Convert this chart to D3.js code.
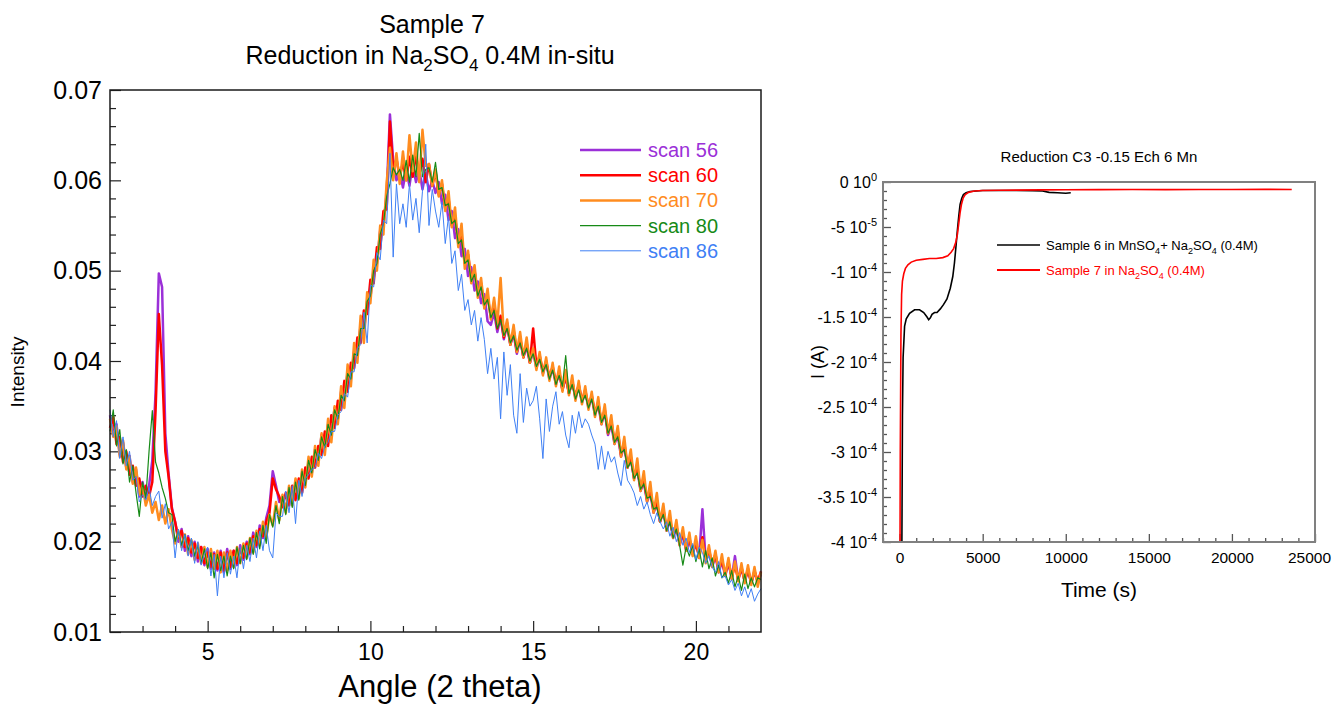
<!DOCTYPE html>
<html>
<head>
<meta charset="utf-8">
<script src="https://cdn.jsdelivr.net/npm/d3@7/dist/d3.min.js"></script>
<style>
  body { margin:0; background:#fff; }
  svg text { font-family: Arial, "Liberation Sans", sans-serif; }
</style>
</head>
<body>
<div id="chart"></div>
<script>

// ---------------- Left chart : XRD scans (angle grid 2 .. 22, step 0.1) ----------------
var scanAngle = d3.range(0, 201).map(function(i){ return Math.round((2 + i/10)*10)/10; });

var scan56 = [
  .0340,.0318,.0330,.0296,.0310,.0282,.0295,.0266,.0280,.0250,
  .0266,.0248,.0262,.0290,.0365,.0497,.0482,.0320,.0275,.0238,
  .0222,.0200,.0214,.0190,.0206,.0184,.0200,.0178,.0194,.0174,
  .0192,.0170,.0188,.0168,.0190,.0166,.0192,.0170,.0190,.0174,
  .0196,.0180,.0200,.0186,.0210,.0194,.0218,.0204,.0226,.0240,
  .0278,.0262,.0244,.0248,.0236,.0256,.0244,.0264,.0252,.0276,
  .0264,.0288,.0276,.0302,.0290,.0318,.0304,.0330,.0318,.0348,
  .0336,.0366,.0356,.0388,.0380,.0410,.0406,.0440,.0432,.0466,
  .0470,.0502,.0508,.0544,.0548,.0586,.0673,.0622,.0600,.0610,
  .0592,.0612,.0594,.0618,.0598,.0612,.0590,.0608,.0588,.0600,
  .0586,.0598,.0574,.0584,.0556,.0566,.0536,.0546,.0516,.0524,
  .0494,.0504,.0478,.0488,.0464,.0474,.0444,.0440,.0454,.0432,
  .0448,.0424,.0440,.0418,.0430,.0408,.0424,.0404,.0416,.0398,
  .0410,.0392,.0404,.0386,.0398,.0380,.0392,.0374,.0388,.0368,
  .0382,.0364,.0378,.0358,.0372,.0354,.0366,.0348,.0360,.0340,
  .0352,.0330,.0344,.0318,.0330,.0308,.0318,.0294,.0306,.0282,
  .0292,.0270,.0280,.0256,.0266,.0244,.0254,.0232,.0242,.0222,
  .0234,.0212,.0224,.0204,.0216,.0196,.0208,.0190,.0202,.0186,
  .0198,.0184,.0236,.0180,.0190,.0172,.0184,.0166,.0178,.0162,
  .0176,.0160,.0184,.0158,.0170,.0156,.0168,.0154,.0166,.0156,
  .0164
];

var scan60 = [
  .0326,.0338,.0308,.0316,.0288,.0300,.0274,.0284,.0262,.0270,
  .0250,.0262,.0250,.0266,.0345,.0452,.0395,.0300,.0272,.0236,
  .0222,.0204,.0212,.0194,.0204,.0188,.0198,.0182,.0194,.0176,
  .0188,.0172,.0186,.0170,.0188,.0168,.0188,.0172,.0190,.0176,
  .0192,.0182,.0198,.0188,.0206,.0196,.0214,.0206,.0222,.0232,
  .0270,.0258,.0250,.0238,.0254,.0240,.0262,.0246,.0270,.0254,
  .0282,.0270,.0294,.0282,.0306,.0296,.0322,.0306,.0340,.0326,
  .0356,.0346,.0378,.0366,.0398,.0392,.0426,.0420,.0456,.0452,
  .0490,.0486,.0526,.0524,.0566,.0568,.0665,.0612,.0624,.0604,
  .0620,.0600,.0626,.0604,.0628,.0606,.0624,.0598,.0618,.0594,
  .0610,.0584,.0596,.0568,.0580,.0550,.0560,.0530,.0538,.0508,
  .0518,.0490,.0500,.0474,.0486,.0460,.0472,.0448,.0462,.0436,
  .0450,.0426,.0442,.0418,.0434,.0410,.0426,.0404,.0420,.0398,
  .0436,.0394,.0406,.0388,.0400,.0382,.0394,.0376,.0388,.0368,
  .0384,.0364,.0378,.0360,.0374,.0356,.0368,.0350,.0362,.0342,
  .0354,.0332,.0346,.0320,.0334,.0310,.0322,.0296,.0310,.0282,
  .0294,.0270,.0282,.0258,.0268,.0246,.0256,.0234,.0244,.0222,
  .0236,.0214,.0226,.0206,.0218,.0198,.0210,.0192,.0204,.0186,
  .0200,.0182,.0205,.0180,.0192,.0174,.0186,.0168,.0180,.0164,
  .0178,.0160,.0174,.0158,.0172,.0156,.0170,.0154,.0168,.0156,
  .0167
];

var scan70 = [
  .0336,.0316,.0328,.0294,.0312,.0280,.0294,.0264,.0282,.0252,
  .0262,.0240,.0252,.0232,.0244,.0224,.0240,.0220,.0236,.0214,
  .0198,.0212,.0194,.0208,.0186,.0202,.0180,.0198,.0176,.0194,
  .0172,.0192,.0170,.0190,.0166,.0188,.0168,.0190,.0172,.0194,
  .0176,.0198,.0182,.0204,.0188,.0212,.0196,.0222,.0204,.0230,
  .0218,.0244,.0224,.0252,.0232,.0262,.0240,.0270,.0248,.0280,
  .0260,.0294,.0272,.0306,.0284,.0320,.0296,.0336,.0310,.0350,
  .0330,.0372,.0348,.0396,.0372,.0420,.0398,.0450,.0420,.0476,
  .0464,.0512,.0500,.0550,.0540,.0598,.0636,.0600,.0630,.0596,
  .0632,.0600,.0650,.0610,.0642,.0598,.0656,.0616,.0618,.0594,
  .0612,.0582,.0600,.0566,.0588,.0548,.0570,.0526,.0552,.0502,
  .0522,.0486,.0506,.0470,.0492,.0458,.0480,.0446,.0470,.0440,
  .0492,.0428,.0446,.0418,.0440,.0410,.0432,.0404,.0426,.0398,
  .0414,.0390,.0410,.0384,.0404,.0378,.0398,.0372,.0394,.0366,
  .0390,.0362,.0384,.0356,.0378,.0352,.0372,.0346,.0366,.0338,
  .0360,.0330,.0352,.0320,.0340,.0308,.0328,.0294,.0316,.0282,
  .0302,.0268,.0292,.0256,.0278,.0244,.0266,.0232,.0254,.0222,
  .0242,.0212,.0234,.0204,.0224,.0196,.0216,.0190,.0210,.0184,
  .0206,.0182,.0202,.0176,.0196,.0172,.0190,.0166,.0186,.0162,
  .0182,.0158,.0178,.0156,.0176,.0154,.0174,.0152,.0172,.0150,
  .0166
];

var scan80 = [
  .0322,.0346,.0306,.0324,.0286,.0302,.0266,.0284,.0254,.0228,
  .0266,.0248,.0300,.0345,.0288,.0276,.0260,.0248,.0232,.0230,
  .0200,.0212,.0196,.0208,.0190,.0202,.0184,.0196,.0176,.0192,
  .0170,.0188,.0160,.0186,.0168,.0184,.0162,.0184,.0170,.0194,
  .0176,.0196,.0180,.0204,.0186,.0210,.0192,.0218,.0198,.0230,
  .0216,.0240,.0220,.0250,.0230,.0260,.0238,.0266,.0246,.0278,
  .0262,.0290,.0276,.0302,.0290,.0316,.0304,.0330,.0318,.0346,
  .0336,.0362,.0356,.0386,.0380,.0408,.0406,.0436,.0436,.0466,
  .0472,.0500,.0508,.0540,.0552,.0582,.0596,.0614,.0606,.0612,
  .0600,.0622,.0598,.0628,.0604,.0652,.0604,.0612,.0614,.0598,
  .0620,.0590,.0592,.0572,.0574,.0552,.0556,.0530,.0534,.0508,
  .0512,.0488,.0496,.0472,.0482,.0462,.0468,.0448,.0456,.0436,
  .0446,.0428,.0436,.0420,.0428,.0412,.0420,.0406,.0414,.0400,
  .0408,.0394,.0402,.0388,.0396,.0380,.0390,.0374,.0384,.0372,
  .0406,.0364,.0374,.0358,.0368,.0354,.0362,.0348,.0358,.0340,
  .0350,.0332,.0340,.0320,.0328,.0310,.0316,.0298,.0302,.0282,
  .0288,.0270,.0276,.0258,.0264,.0248,.0250,.0236,.0238,.0222,
  .0230,.0212,.0222,.0204,.0214,.0196,.0174,.0194,.0184,.0196,
  .0178,.0192,.0172,.0190,.0170,.0182,.0162,.0174,.0160,.0166,
  .0154,.0168,.0150,.0162,.0146,.0164,.0148,.0160,.0150,.0160,
  .0158
];

var scan86 = [
  .0346,.0316,.0334,.0292,.0316,.0284,.0300,.0268,.0272,.0244,
  .0252,.0246,.0260,.0240,.0250,.0256,.0226,.0242,.0214,.0222,
  .0182,.0214,.0190,.0208,.0184,.0204,.0176,.0200,.0174,.0186,
  .0194,.0162,.0186,.0140,.0184,.0160,.0188,.0164,.0184,.0160,
  .0194,.0170,.0196,.0178,.0204,.0182,.0212,.0190,.0218,.0190,
  .0182,.0232,.0228,.0228,.0256,.0232,.0262,.0220,.0268,.0250,
  .0270,.0274,.0280,.0282,.0298,.0292,.0306,.0310,.0322,.0322,
  .0340,.0344,.0364,.0360,.0388,.0388,.0414,.0418,.0454,.0420,
  .0484,.0482,.0520,.0512,.0556,.0552,.0630,.0515,.0596,.0552,
  .0574,.0548,.0596,.0556,.0580,.0542,.0588,.0640,.0550,.0590,
  .0566,.0548,.0576,.0530,.0560,.0508,.0522,.0478,.0496,.0456,
  .0468,.0440,.0456,.0422,.0448,.0424,.0386,.0414,.0380,.0404,
  .0336,.0410,.0362,.0396,.0340,.0320,.0386,.0332,.0370,.0350,
  .0356,.0372,.0336,.0292,.0358,.0322,.0350,.0366,.0330,.0344,
  .0318,.0304,.0340,.0320,.0344,.0326,.0336,.0330,.0318,.0308,
  .0280,.0306,.0280,.0300,.0288,.0294,.0276,.0262,.0290,.0268,
  .0262,.0254,.0240,.0250,.0236,.0244,.0230,.0220,.0232,.0222,
  .0214,.0222,.0206,.0216,.0200,.0210,.0196,.0204,.0188,.0198,
  .0180,.0194,.0188,.0176,.0184,.0172,.0166,.0178,.0160,.0162,
  .0152,.0158,.0146,.0154,.0140,.0150,.0138,.0148,.0134,.0142,
  .0148
];

var scanNames  = ["scan 56","scan 60","scan 70","scan 80","scan 86"];
var scanSeries = [scan56, scan60, scan70, scan80, scan86];

var scanMajorX = [5,10,15,20];
var scanMinorX = [3,4,6,7,8,9,11,12,13,14,16,17,18,19,21];
var scanMajorY = [0.01,0.02,0.03,0.04,0.05,0.06,0.07];
var scanMinorY = d3.range(12,70,2).filter(function(v){return v%10!=0;}).map(function(v){return v/1000;});

// ---------------- Right chart : current vs time ----------------
var sample6Time = [130,170,210,300,400,600,900,1200,1450,1650,
                   1750,1850,1950,2100,2250,2450,2650,2850,3050,3200,
                   3300,3400,3480,3560,3640,3740,3840,4000,4240,4600,
                   5000,6000,7000,8000,8600,9000,9500,10000,10300];
var sample6Current = [-4.3e-4,-2.6e-4,-1.95e-4,-1.6e-4,-1.52e-4,-1.46e-4,-1.42e-4,-1.42e-4,-1.45e-4,-1.5e-4,
                      -1.53e-4,-1.51e-4,-1.47e-4,-1.45e-4,-1.45e-4,-1.41e-4,-1.36e-4,-1.3e-4,-1.18e-4,-1.05e-4,
                      -9.0e-5,-7.0e-5,-5.3e-5,-3.8e-5,-2.5e-5,-1.8e-5,-1.4e-5,-1.2e-5,-1.05e-5,-1.0e-5,
                      -9.5e-6,-9.5e-6,-9.4e-6,-9.6e-6,-1.0e-5,-1.15e-5,-1.2e-5,-1.25e-5,-1.2e-5];

var sample7Time = [20,40,80,120,170,250,350,500,700,1000,
                   1400,1800,2200,2600,2900,3100,3250,3380,3480,3560,
                   3640,3720,3820,3950,4150,4500,5000,6000,7000,8500,
                   10000,12000,14000,16000,18000,20000,22000,23600];
var sample7Current = [-4.3e-4,-3.0e-4,-1.7e-4,-1.25e-4,-1.1e-4,-1.02e-4,-9.6e-5,-9.2e-5,-8.9e-5,-8.7e-5,
                      -8.6e-5,-8.5e-5,-8.5e-5,-8.4e-5,-8.2e-5,-7.8e-5,-7.4e-5,-6.7e-5,-5.8e-5,-4.6e-5,
                      -3.4e-5,-2.5e-5,-1.8e-5,-1.4e-5,-1.15e-5,-1.0e-5,-9.5e-6,-9.2e-6,-9.0e-6,-8.8e-6,
                      -8.6e-6,-8.5e-6,-8.4e-6,-8.5e-6,-8.3e-6,-8.4e-6,-8.2e-6,-8.3e-6];

var currentMajorX = [0,5000,10000,15000,20000,25000];
var currentMinorX = d3.range(-1000,25000,1000).filter(function(v){return v%5000!=0;});
var currentMajorY = [0,-5e-5,-1e-4,-1.5e-4,-2e-4,-2.5e-4,-3e-4,-3.5e-4,-4e-4];
var currentTickMantissa = ["0","-5","-1","-1.5","-2","-2.5","-3","-3.5","-4"];
var currentTickExponent = ["0","-5","-4","-4","-4","-4","-4","-4","-4"];
var currentMinorY = d3.range(-40,1,1).filter(function(v){return v%5!=0;}).map(function(v){return v*1e-5;});


var scanColors = ["#9b30d8","#ff0000","#ff8c1f","#178a17","#3f80f5"];
var scanWidths = [2.5,2.5,2.5,1.2,1.0];

var svg = d3.select("#chart")
  .append("svg")
    .attr("width",1336)
    .attr("height",704);

plotScans();
plotCurrent();


function plotScans(){
  var frame = {left:110, right:761, top:90, bottom:632};

  var x = d3.scaleLinear().domain([2,22]).range([frame.left,frame.right]);
  var y = d3.scaleLinear().domain([0.01,0.07]).range([frame.bottom,frame.top]);

  var g = svg.append("g").attr("class","scans");

  // title
  g.append("text")
    .attr("x",432).attr("y",33)
    .attr("text-anchor","middle")
    .attr("font-size",25)
    .text("Sample 7");
  var t2 = g.append("text")
    .attr("x",430).attr("y",64)
    .attr("text-anchor","middle")
    .attr("font-size",25);
  t2.append("tspan").text("Reduction in Na");
  t2.append("tspan").attr("dy",7).attr("font-size",17).text("2");
  t2.append("tspan").attr("dy",-7).text("SO");
  t2.append("tspan").attr("dy",7).attr("font-size",17).text("4");
  t2.append("tspan").attr("dy",-7).text(" 0.4M in-situ");

  // axes
  var xMinor = d3.axisBottom(x).tickValues(scanMinorX).tickSizeInner(-6).tickSizeOuter(0).tickFormat("");
  var xMajor = d3.axisBottom(x).tickValues(scanMajorX).tickSizeInner(-11).tickSizeOuter(0).tickPadding(12).tickFormat(d3.format("d"));
  var yMinor = d3.axisLeft(y).tickValues(scanMinorY).tickSizeInner(-6).tickSizeOuter(0).tickFormat("");
  var yMajor = d3.axisLeft(y).tickValues(scanMajorY).tickSizeInner(-11).tickSizeOuter(0).tickPadding(8).tickFormat(d3.format(".2f"));

  [xMinor,xMajor].forEach(function(a){
    g.append("g").attr("transform","translate(0,"+frame.bottom+")").call(a)
      .attr("font-size",23).attr("font-family",null);
  });
  [yMinor,yMajor].forEach(function(a){
    g.append("g").attr("transform","translate("+frame.left+",0)").call(a)
      .attr("font-size",25).attr("font-family",null);
  });
  g.selectAll(".domain").remove();
  g.selectAll(".tick line").attr("stroke","#222").attr("stroke-width",1.2);
  g.selectAll(".tick text").attr("fill","#000");

  // scans
  var line = d3.line()
    .x(function(d,i){return x(scanAngle[i]);})
    .y(function(d){return y(d);});

  g.append("g")
    .attr("class","scan-lines")
    .selectAll("path")
    .data(scanSeries)
    .enter()
    .append("path")
      .attr("d",line)
      .attr("fill","none")
      .attr("stroke",function(d,i){return scanColors[i];})
      .attr("stroke-width",function(d,i){return scanWidths[i];})
      .attr("stroke-linejoin","round");

  // frame
  g.append("rect")
    .attr("x",frame.left).attr("y",frame.top)
    .attr("width",frame.right-frame.left)
    .attr("height",frame.bottom-frame.top)
    .attr("fill","none")
    .attr("stroke","#1a1a1a")
    .attr("stroke-width",1.5);

  // legend
  var legend = g.append("g").attr("class","legend");
  scanNames.forEach(function(name,i){
    var ly = 150 + i*25.2;
    legend.append("line")
      .attr("x1",580).attr("x2",641)
      .attr("y1",ly).attr("y2",ly)
      .attr("stroke",scanColors[i])
      .attr("stroke-width",scanWidths[i]);
    legend.append("text")
      .attr("x",648).attr("y",ly+7)
      .attr("font-size",20)
      .attr("fill",scanColors[i])
      .text(name);
  });

  // axis titles
  g.append("text")
    .attr("x",440).attr("y",697)
    .attr("text-anchor","middle")
    .attr("font-size",31)
    .text("Angle (2 theta)");
  g.append("text")
    .attr("transform","translate(24,372) rotate(-90)")
    .attr("text-anchor","middle")
    .attr("font-size",19)
    .text("Intensity");
}


function plotCurrent(){
  var frame = {left:883, right:1315, top:182, bottom:542};

  var x = d3.scaleLinear().domain([-1000,25000]).range([frame.left,frame.right]);
  var y = d3.scaleLinear().domain([-4e-4,0]).range([frame.bottom,frame.top]);

  var g = svg.append("g").attr("class","current");

  g.append("clipPath")
    .attr("id","current-clip")
    .append("rect")
      .attr("x",frame.left).attr("y",frame.top)
      .attr("width",frame.right-frame.left)
      .attr("height",frame.bottom-frame.top);

  g.append("text")
    .attr("x",1099).attr("y",162)
    .attr("text-anchor","middle")
    .attr("font-size",15)
    .text("Reduction C3 -0.15 Ech 6 Mn");

  var xMinor = d3.axisBottom(x).tickValues(currentMinorX).tickSizeInner(-4).tickSizeOuter(0).tickFormat("");
  var xMajor = d3.axisBottom(x).tickValues(currentMajorX).tickSizeInner(-8).tickSizeOuter(0).tickPadding(10).tickFormat(d3.format("d"));
  var yMinor = d3.axisLeft(y).tickValues(currentMinorY).tickSizeInner(-4).tickSizeOuter(0).tickFormat("");
  var yMajor = d3.axisLeft(y).tickValues(currentMajorY).tickSizeInner(-8).tickSizeOuter(0).tickFormat("");

  [xMinor,xMajor].forEach(function(a){
    g.append("g").attr("transform","translate(0,"+frame.bottom+")").call(a)
      .attr("font-size",15.5).attr("font-family",null);
  });
  [yMinor,yMajor].forEach(function(a){
    g.append("g").attr("transform","translate("+frame.left+",0)").call(a);
  });
  g.selectAll(".domain").remove();
  g.selectAll(".tick line").attr("stroke","#555").attr("stroke-width",1.3);
  g.selectAll(".tick text").attr("fill","#000");
  // keep the last x label inside the page like the reference
  g.selectAll(".tick text").filter(function(d){return d==25000;}).attr("dx",-6);

  // y labels with power-of-ten superscripts
  var yl = g.append("g").attr("class","y-labels");
  currentMajorY.forEach(function(v,i){
    var t = yl.append("text")
      .attr("x",frame.left-6)
      .attr("y",y(v)+6)
      .attr("text-anchor","end")
      .attr("font-size",16);
    t.append("tspan").text(currentTickMantissa[i]+" 10");
    t.append("tspan").attr("dy",-7).attr("font-size",11).text(currentTickExponent[i]);
  });

  var line = d3.line()
    .x(function(d){return x(d[0]);})
    .y(function(d){return y(d[1]);});

  var curves = g.append("g").attr("clip-path","url(#current-clip)");
  curves.append("path")
    .attr("d",line(d3.zip(sample6Time,sample6Current)))
    .attr("fill","none")
    .attr("stroke","#000")
    .attr("stroke-width",1.6);
  curves.append("path")
    .attr("d",line(d3.zip(sample7Time,sample7Current)))
    .attr("fill","none")
    .attr("stroke","#ff0000")
    .attr("stroke-width",1.6);

  g.append("rect")
    .attr("x",frame.left).attr("y",frame.top)
    .attr("width",frame.right-frame.left)
    .attr("height",frame.bottom-frame.top)
    .attr("fill","none")
    .attr("stroke","#808080")
    .attr("stroke-width",2);

  // legend
  var lg = g.append("g").attr("class","legend");
  lg.append("line").attr("x1",997).attr("x2",1040).attr("y1",245).attr("y2",245)
    .attr("stroke","#000").attr("stroke-width",1.5);
  var l1 = lg.append("text").attr("x",1046).attr("y",250).attr("font-size",13);
  l1.append("tspan").text("Sample 6 in MnSO");
  l1.append("tspan").attr("dy",4).attr("font-size",9).text("4");
  l1.append("tspan").attr("dy",-4).text("+ Na");
  l1.append("tspan").attr("dy",4).attr("font-size",9).text("2");
  l1.append("tspan").attr("dy",-4).text("SO");
  l1.append("tspan").attr("dy",4).attr("font-size",9).text("4");
  l1.append("tspan").attr("dy",-4).text(" (0.4M)");

  lg.append("line").attr("x1",997).attr("x2",1040).attr("y1",270).attr("y2",270)
    .attr("stroke","#ff0000").attr("stroke-width",2);
  var l2 = lg.append("text").attr("x",1046).attr("y",275).attr("font-size",13).attr("fill","#ff0000");
  l2.append("tspan").text("Sample 7 in Na");
  l2.append("tspan").attr("dy",4).attr("font-size",9).text("2");
  l2.append("tspan").attr("dy",-4).text("SO");
  l2.append("tspan").attr("dy",4).attr("font-size",9).text("4");
  l2.append("tspan").attr("dy",-4).text(" (0.4M)");

  g.append("text")
    .attr("x",1099).attr("y",597)
    .attr("text-anchor","middle")
    .attr("font-size",21)
    .text("Time (s)");
  g.append("text")
    .attr("transform","translate(824,362) rotate(-90)")
    .attr("text-anchor","middle")
    .attr("font-size",18)
    .text("I (A)");
}

</script>
</body>
</html>
